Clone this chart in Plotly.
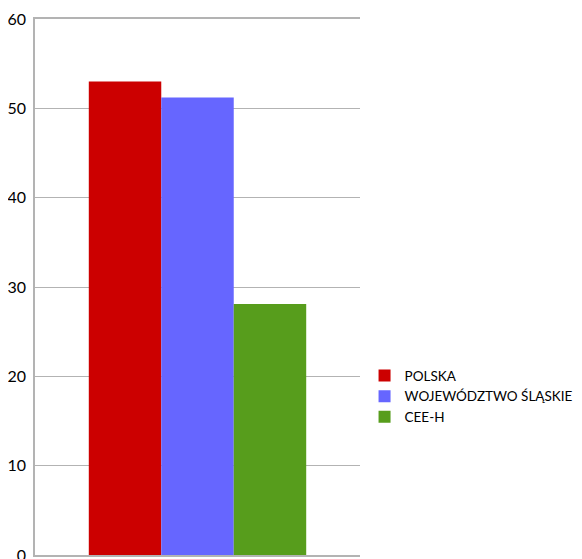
import plotly.graph_objects as go

categories = [""]
series_names = ["POLSKA", "WOJEWÓDZTWO ŚLĄSKIE", "CEE-H"]
series_values = [53.0, 51.2, 28.1]
colors = ["#cc0000", "#6666ff", "#579d1c"]
y_ticks = [0, 10, 20, 30, 40, 50, 60]

fig = go.Figure()
for name, val, col in zip(series_names, series_values, colors):
    fig.add_trace(go.Bar(x=categories, y=[val], name=name, marker=dict(color=col, line=dict(width=0))))

# page body has an 8px margin, so the figure is sized/positioned to compensate
fig.update_layout(
    width=574, height=551,
    barmode="group", bargap=0.331, bargroupgap=0,
    margin=dict(l=26.5, r=221.5, t=10.5, b=4, autoexpand=False),
    paper_bgcolor="white", plot_bgcolor="white",
    font=dict(family="Lato, Open Sans, sans-serif", size=13, color="#000000"),
    legend=dict(x=1.014, xanchor="left", y=0.296, yanchor="middle",
                font=dict(size=13.5, color="#000000"), itemwidth=30,
                tracegroupgap=0, bgcolor="rgba(0,0,0,0)"),
    showlegend=True,
)
fig.update_xaxes(showticklabels=False, showline=True, linecolor="#b3b3b3", linewidth=1.5,
                 mirror=True, showgrid=False, zeroline=False)
fig.update_yaxes(range=[0, 60], tickvals=y_ticks, showgrid=True, gridcolor="#b3b3b3", gridwidth=1,
                 showline=True, linecolor="#b3b3b3", linewidth=1.5, mirror=False, zeroline=False,
                 tickfont=dict(family="Lato, sans-serif", size=16, color="#000000"),
                 ticks="", ticklabelstandoff=4, ticklabeloverflow="allow")

fig.write_html("out.html")
